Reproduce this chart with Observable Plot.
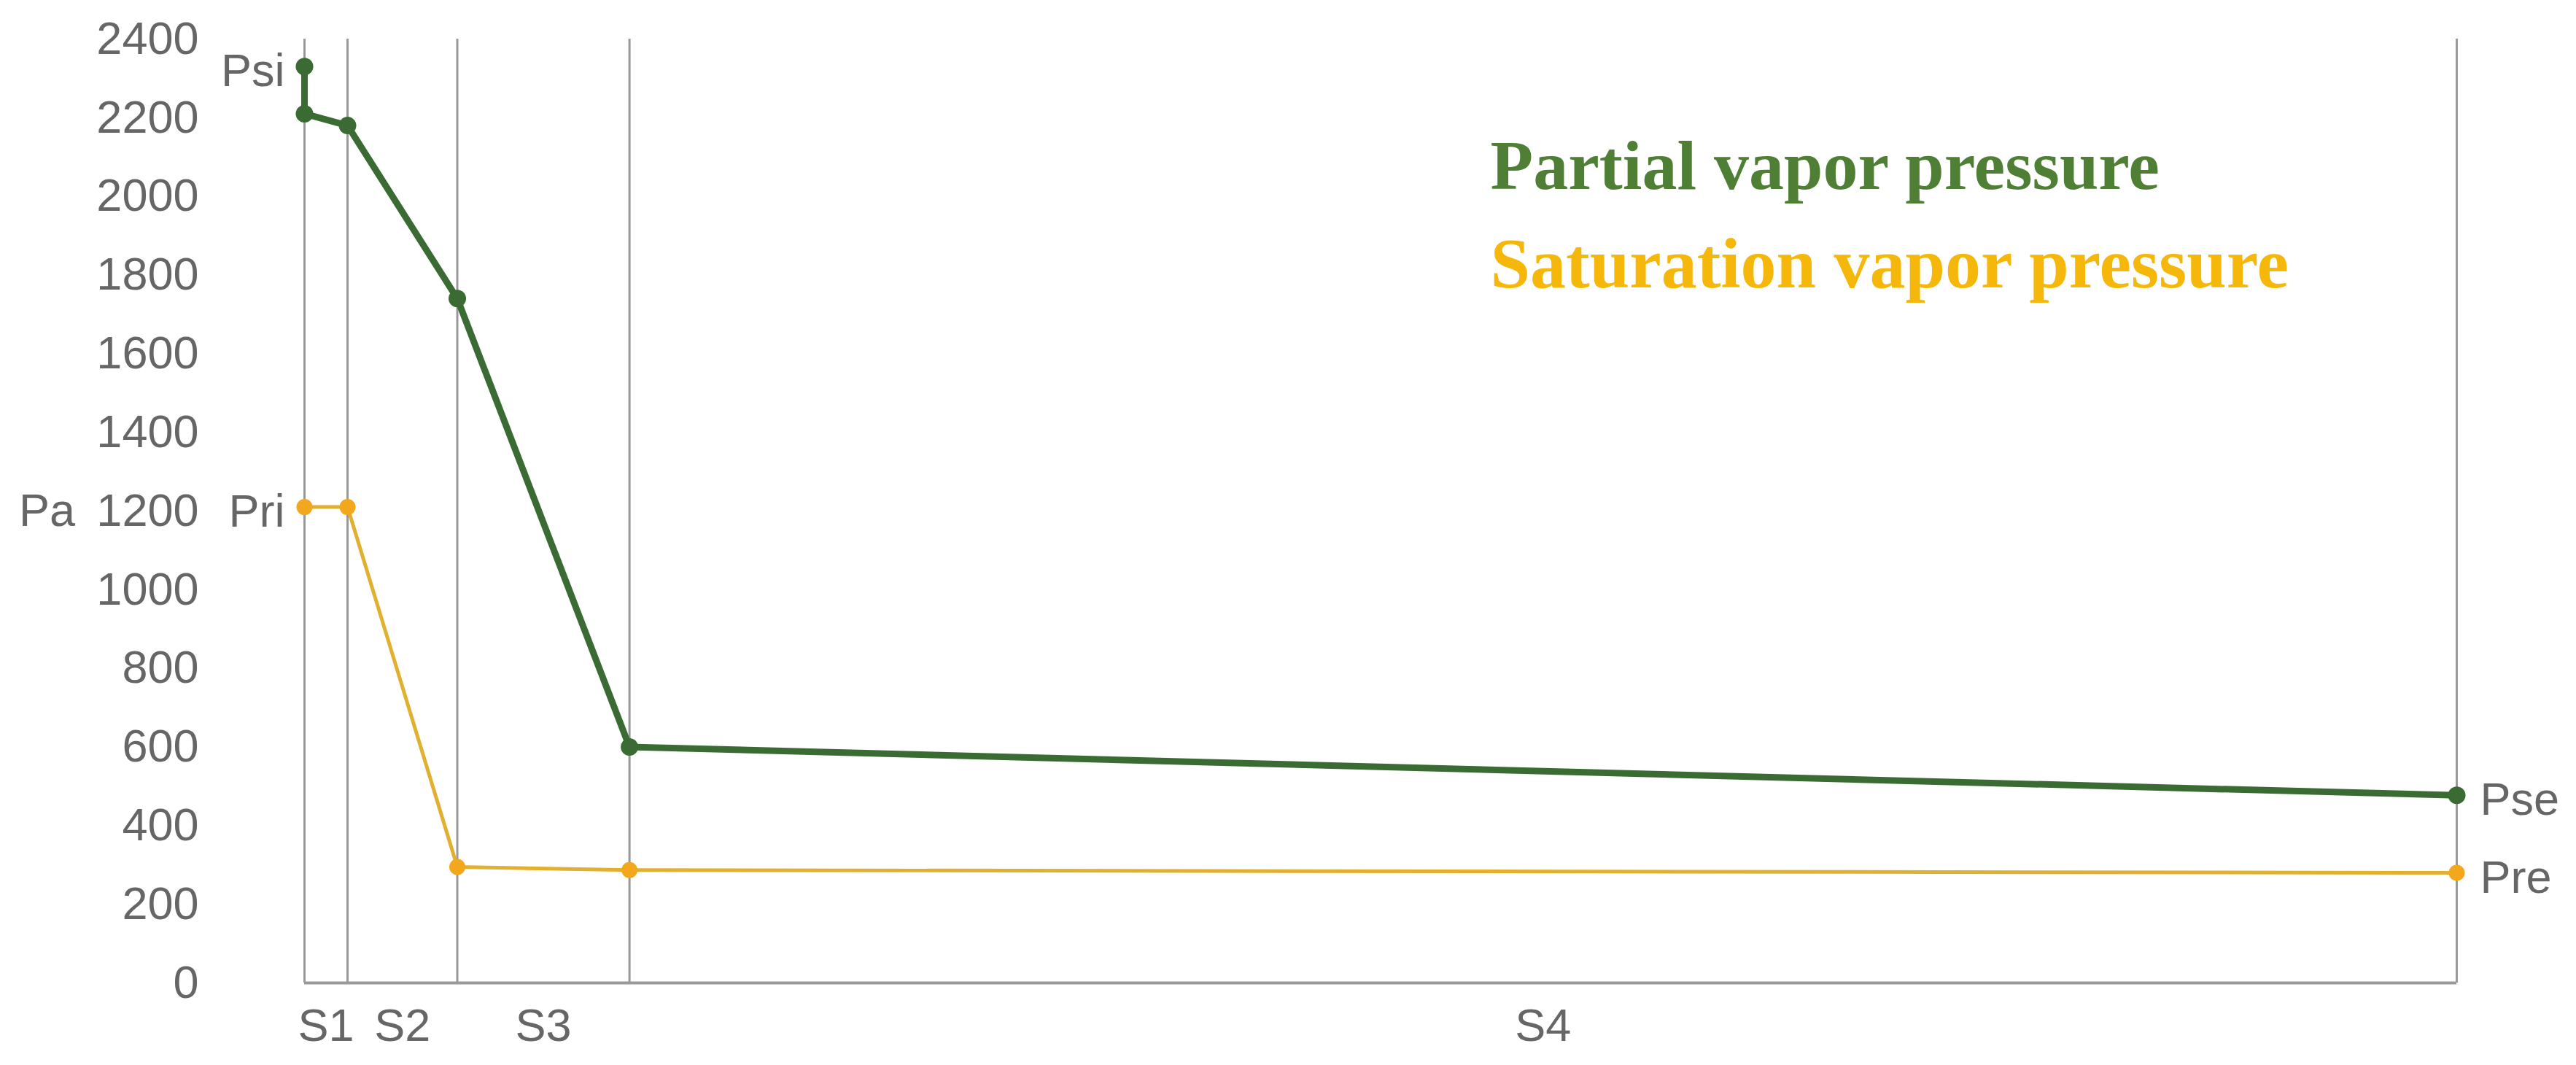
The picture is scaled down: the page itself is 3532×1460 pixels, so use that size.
<!DOCTYPE html>
<html>
<head>
<meta charset="utf-8">
<script src="https://cdn.jsdelivr.net/npm/d3@7"></script>
<script src="https://cdn.jsdelivr.net/npm/@observablehq/plot@0.6"></script>
<style>
  html, body { margin: 0; padding: 0; background: #ffffff; }
  #chart svg { display: block; }
</style>
</head>
<body>
<div id="chart"></div>
<script>
// ---- Data ----
const layerNames = ["S1", "S2", "S3", "S4"];
const boundaries = [0, 0.6, 2.13, 4.53, 30];          // interface positions
const partialX = [0, 0, 0.6, 2.13, 4.53, 30];
const partialY = [2330, 2210, 2180, 1740, 600, 477];  // Pa
const saturationX = [0, 0.6, 2.13, 4.53, 30];
const saturationY = [1210, 1210, 295, 287, 280];      // Pa
const yTicks = [0, 200, 400, 600, 800, 1000, 1200, 1400, 1600, 1800, 2000, 2200, 2400];
const seriesNames = ["Partial vapor pressure", "Saturation vapor pressure"];
const pointLabels = ["Psi", "Pri", "Pse", "Pre"];
const unitLabel = "Pa";

// ---- Colours ----
const green = "#3a6b33";
const greenText = "#4e7f35";
const orangeLine = "#e2b030";
const orangeDot = "#f3a71c";
const yellowText = "#f5b80a";
const grey = "#999999";
const textGrey = "#666666";

const partial = partialX.map((x, i) => ({x, y: partialY[i]}));
const saturation = saturationX.map((x, i) => ({x, y: saturationY[i]}));
const mids = layerNames.map((_, i) => (boundaries[i] + boundaries[i + 1]) / 2);

const leftLabels = [
  {x: partial[0].x, y: partial[0].y, t: pointLabels[0]},
  {x: saturation[0].x, y: saturation[0].y, t: pointLabels[1]}
];
const rightLabels = [
  {x: partial[partial.length - 1].x, y: partial[partial.length - 1].y, t: pointLabels[2]},
  {x: saturation[saturation.length - 1].x, y: saturation[saturation.length - 1].y, t: pointLabels[3]}
];

const chart = Plot.plot({
  width: 3532,
  height: 1460,
  marginLeft: 417,
  marginRight: 164,
  marginTop: 53,
  marginBottom: 113,
  x: {domain: [boundaries[0], boundaries[boundaries.length - 1]]},
  y: {domain: [0, 2400]},
  style: {fontFamily: "'Liberation Sans', Arial, sans-serif", fontSize: "62px", color: textGrey, background: "#ffffff"},
  marks: [
    Plot.ruleX(boundaries, {y1: 0, y2: 2400, stroke: grey, strokeWidth: 3}),
    Plot.ruleY([0], {stroke: grey, strokeWidth: 4}),
    Plot.axisY(yTicks, {tickSize: 0, tickPadding: 145, fontSize: 63, label: null, fill: textGrey,
      tickFormat: d => String(d)}),
    Plot.axisX(mids, {tickSize: 0, tickPadding: 35, fontSize: 63, label: null, fill: textGrey,
      tickFormat: d => layerNames[mids.indexOf(d)]}),
    Plot.text([unitLabel], {frameAnchor: "left", dx: -353, textAnchor: "middle", fontSize: 63, fill: textGrey}),
    Plot.line(saturation, {x: "x", y: "y", stroke: orangeLine, strokeWidth: 5}),
    Plot.dot(saturation, {x: "x", y: "y", r: 11, fill: orangeDot, stroke: "none"}),
    Plot.line(partial, {x: "x", y: "y", stroke: green, strokeWidth: 9}),
    Plot.dot(partial, {x: "x", y: "y", r: 12, fill: green, stroke: "none"}),
    Plot.text(leftLabels, {x: "x", y: "y", text: "t", textAnchor: "end", dx: -27, dy: 7, fontSize: 63, fill: textGrey}),
    Plot.text(rightLabels, {x: "x", y: "y", text: "t", textAnchor: "start", dx: 32, dy: 7, fontSize: 63, fill: textGrey}),
    Plot.text([seriesNames[0]], {frameAnchor: "top-left", dx: 1626, dy: 205, lineAnchor: "bottom", textAnchor: "start",
      fontSize: 96, fontWeight: "bold", fontFamily: "'Liberation Serif', 'DejaVu Serif', serif", fill: greenText}),
    Plot.text([seriesNames[1]], {frameAnchor: "top-left", dx: 1626, dy: 340, lineAnchor: "bottom", textAnchor: "start",
      fontSize: 98, fontWeight: "bold", fontFamily: "'Liberation Serif', 'DejaVu Serif', serif", fill: yellowText})
  ]
});
document.getElementById("chart").appendChild(chart);
</script>
</body>
</html>
